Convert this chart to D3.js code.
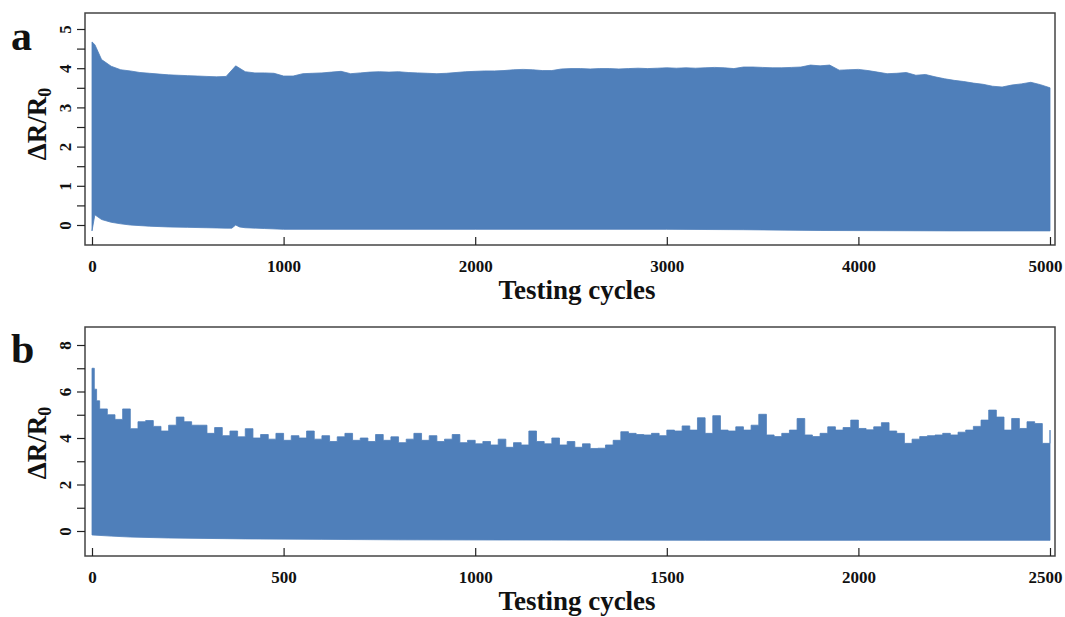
<!DOCTYPE html>
<html>
<head>
<meta charset="utf-8">
<script src="https://cdn.jsdelivr.net/npm/d3@7"></script>
<style>
  body { margin: 0; background: #fff; }
  svg { display: block; font-family: "Liberation Serif", "Times New Roman", serif; font-weight: bold; }
</style>
</head>
<body>
<svg width="1065" height="617"></svg>
<script>
// panel a: 5000 cycles, upper and lower envelope of dR/R0
var cyclesA = [0, 15].concat(d3.range(50, 5001, 50));
var upperA = [4.67, 4.60,
    4.22, 4.05, 3.96, 3.93, 3.89, 3.87, 3.85, 3.83, 3.82, 3.81,
    3.80, 3.79, 3.78, 3.79, 4.06, 3.91, 3.88, 3.88, 3.87, 3.80,
    3.80, 3.86, 3.87, 3.88, 3.90, 3.92, 3.86, 3.88, 3.90, 3.91,
    3.90, 3.91, 3.89, 3.88, 3.87, 3.86, 3.87, 3.89, 3.91, 3.92,
    3.93, 3.93, 3.94, 3.96, 3.97, 3.96, 3.94, 3.94, 3.98, 3.99,
    3.99, 3.98, 3.99, 3.99, 3.98, 3.99, 4.00, 3.99, 4.00, 4.01,
    4.00, 4.01, 4.00, 4.01, 4.02, 4.01, 3.99, 4.03, 4.03, 4.02,
    4.01, 4.01, 4.02, 4.03, 4.08, 4.06, 4.08, 3.95, 3.96, 3.97,
    3.94, 3.90, 3.86, 3.87, 3.89, 3.82, 3.84, 3.78, 3.73, 3.69,
    3.66, 3.62, 3.59, 3.54, 3.52, 3.57, 3.60, 3.64, 3.58, 3.50];
var lowerCyclesA = [0, 15, 50, 100, 150, 200, 300, 400, 500, 600, 700, 730, 750, 770, 800, 900, 1000, 2000, 3000, 3400, 3800, 4500, 5000];
var lowerA = [-0.15, 0.26, 0.14, 0.07, 0.03, 0.00, -0.03, -0.05, -0.06, -0.07, -0.08, -0.08, 0.00, -0.05, -0.07, -0.09, -0.11, -0.11, -0.11, -0.12, -0.14, -0.15, -0.15];
var xTicksA = [0, 1000, 2000, 3000, 4000, 5000];

// panel b: 2500 cycles
var cyclesB = [0, 6, 12].concat(d3.range(20, 2501, 20));
var upperB = [7.0, 6.1, 5.6,
    5.25, 5.0, 4.8, 5.25, 4.4, 4.7, 4.75, 4.5, 4.3, 4.55,
    4.9, 4.7, 4.55, 4.55, 4.2, 4.45, 4.1, 4.3, 4.05, 4.4,
    4.0, 4.15, 3.95, 4.2, 3.9, 4.1, 4.0, 4.3, 3.95, 4.1,
    3.85, 4.05, 4.2, 3.9, 4.0, 3.85, 4.15, 3.9, 4.05, 3.8,
    3.95, 4.2, 3.9, 4.1, 3.85, 3.95, 4.15, 3.8, 3.9, 3.75,
    3.85, 3.7, 3.95, 3.6, 3.8, 3.7, 4.3, 3.85, 3.75, 4.0,
    3.7, 3.85, 3.6, 3.75, 3.55, 3.56, 3.70, 3.9, 4.27, 4.2,
    4.15, 4.13, 4.2, 4.1, 4.34, 4.3, 4.52, 4.34, 4.87, 4.2,
    4.96, 4.34, 4.3, 4.48, 4.34, 4.55, 5.02, 4.13, 4.06, 4.2,
    4.34, 4.84, 4.13, 4.06, 4.2, 4.48, 4.34, 4.45, 4.77, 4.41,
    4.35, 4.48, 4.66, 4.3, 4.2, 3.77, 3.95, 4.06, 4.1, 4.13,
    4.2, 4.13, 4.25, 4.34, 4.5, 4.77, 5.20, 4.9, 4.34, 4.84,
    4.41, 4.70, 4.62, 3.77, 4.34];
var lowerCyclesB = [0, 50, 100, 200, 400, 600, 800, 1200, 1600, 2000, 2500];
var lowerB = [-0.17, -0.22, -0.26, -0.30, -0.34, -0.36, -0.38, -0.39, -0.40, -0.40, -0.40];
var xTicksB = [0, 500, 1000, 1500, 2000, 2500];

var fillColor = "#4f7fba";
var svg = d3.select("svg");

function drawPanel(p) {
    var x = d3.scaleLinear().domain(p.xDomain).range([92, 1050]);
    var y = d3.scaleLinear().domain(p.yDomain).range(p.yRange);

    var g = svg.append("g");

    var top = p.upper.map(function (v, i) { return [p.cycles[i], v]; });
    var bottom = p.lower.map(function (v, i) { return [p.lowerCycles[i], v]; }).reverse();

    var upLine = d3.line()
        .x(function (d) { return x(d[0]); })
        .y(function (d) { return y(d[1]); })
        .curve(p.curve);
    var lowLine = d3.line()
        .x(function (d) { return x(d[0]); })
        .y(function (d) { return y(d[1]); });

    g.append("path")
        .attr("d", upLine(top) + "L" + lowLine(bottom).slice(1) + "Z")
        .attr("fill", fillColor)
        .attr("stroke", fillColor)
        .attr("stroke-width", 0.8);

    // frame
    g.append("rect")
        .attr("x", 85).attr("y", p.boxTop)
        .attr("width", 970).attr("height", p.boxBottom - p.boxTop)
        .attr("fill", "none")
        .attr("stroke", "#444")
        .attr("stroke-width", 1.5);

    // x axis, ticks inward
    var xa = g.append("g")
        .attr("transform", "translate(0," + p.boxBottom + ")")
        .call(d3.axisBottom(x).tickValues(p.xTicks).tickSize(-8).tickPadding(15).tickFormat(d3.format("d")));
    xa.select(".domain").remove();
    xa.selectAll("line").attr("stroke", "#222").attr("stroke-width", 1.2);
    xa.selectAll("text").attr("font-size", 17).attr("fill", "#111")
        .attr("font-family", "Liberation Serif, serif").attr("font-weight", "bold")
        .attr("dx", function (d, i) { return i === p.xTicks.length - 1 ? -5 : 0; });

    // y axis, ticks outward, labels rotated
    var ya = g.append("g")
        .attr("transform", "translate(85,0)")
        .call(d3.axisLeft(y).tickValues(p.yTicks).tickSize(8)
            .tickFormat(function (d) { return p.yLabels.indexOf(d) >= 0 ? d : ""; }));
    ya.select(".domain").remove();
    ya.selectAll("line").attr("stroke", "#222").attr("stroke-width", 1.2);
    ya.selectAll("text")
        .attr("x", null).attr("dy", null)
        .attr("text-anchor", "middle")
        .attr("transform", "translate(-14.5,0) rotate(-90)")
        .attr("font-size", 17).attr("fill", "#111")
        .attr("font-family", "Liberation Serif, serif").attr("font-weight", "bold");

    // titles
    g.append("text")
        .attr("x", 577).attr("y", p.boxBottom + 54)
        .attr("text-anchor", "middle")
        .attr("font-size", 27)
        .attr("fill", "#111")
        .text("Testing cycles");

    var yt = g.append("text")
        .attr("transform", "translate(46," + p.yTitleY + ") rotate(-90)")
        .attr("text-anchor", "middle")
        .attr("font-size", 27)
        .attr("fill", "#111");
    yt.append("tspan").text("\u0394R/R");
    yt.append("tspan").attr("font-size", 18).attr("dy", 5).text("0");

    g.append("text")
        .attr("x", 11).attr("y", p.letterY)
        .attr("font-size", 42)
        .attr("fill", "#111")
        .text(p.letter);
}

drawPanel({
    cycles: cyclesA, upper: upperA, lowerCycles: lowerCyclesA, lower: lowerA,
    xDomain: [0, 5000], xTicks: xTicksA,
    yDomain: [0, 5], yRange: [225, 29],
    yTicks: d3.range(0, 5.01, 0.5), yLabels: [0, 1, 2, 3, 4, 5],
    boxTop: 13, boxBottom: 245, yTitleY: 124, letter: "a", letterY: 50,
    curve: d3.curveLinear
});

drawPanel({
    cycles: cyclesB, upper: upperB, lowerCycles: lowerCyclesB, lower: lowerB,
    xDomain: [0, 2500], xTicks: xTicksB,
    yDomain: [0, 8], yRange: [531, 345],
    yTicks: d3.range(0, 9, 1), yLabels: [0, 2, 4, 6, 8],
    boxTop: 327, boxBottom: 556, yTitleY: 443, letter: "b", letterY: 363,
    curve: d3.curveStepAfter
});
</script>
</body>
</html>
